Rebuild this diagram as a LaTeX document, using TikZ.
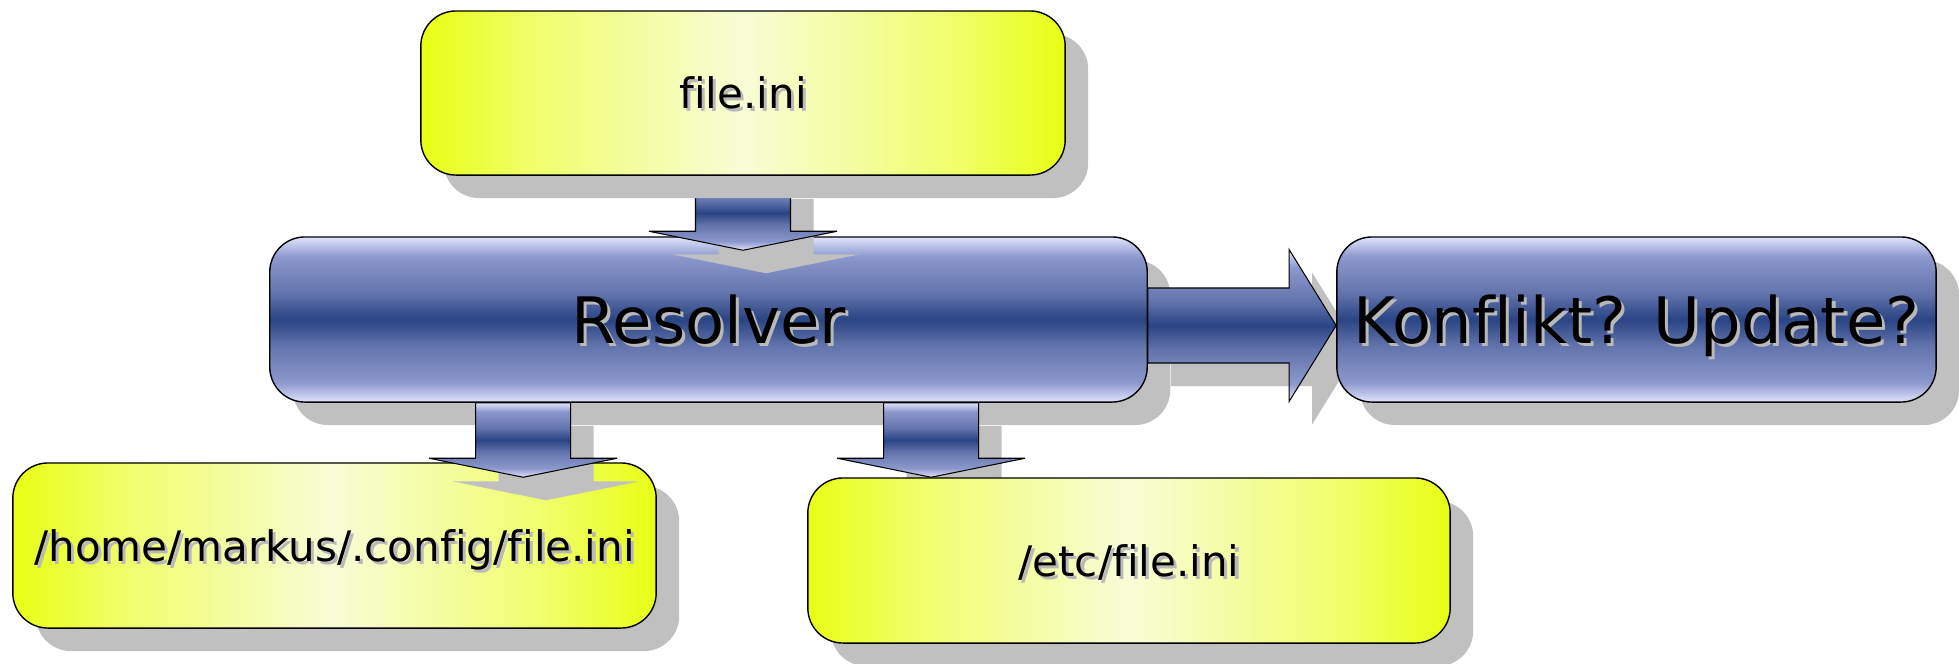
\documentclass[tikz,border=0pt]{standalone}
\usepackage{fontspec}
\setmainfont[Ligatures={NoCommon}]{DejaVu Sans}
\usetikzlibrary{calc,shadows}
\pgfdeclarelayer{bg}
\pgfdeclarelayer{mid}
\pgfsetlayers{bg,mid,main}
\definecolor{yedge}{RGB}{232,255,20}
\definecolor{yq}{RGB}{240,254,110}
\definecolor{ymid}{RGB}{248,252,215}
\definecolor{blight}{RGB}{226,228,252}
\definecolor{bmid}{RGB}{140,152,205}
\definecolor{bmid2}{RGB}{98,116,172}
\definecolor{bdark}{RGB}{42,68,132}
\definecolor{shgray}{RGB}{192,192,192}
\definecolor{tshadow}{RGB}{185,185,185}
\pgfdeclarehorizontalshading{yelsh}{100bp}{color(0bp)=(yedge); color(25bp)=(yedge); color(34bp)=(yq); color(50bp)=(ymid); color(66bp)=(yq); color(75bp)=(yedge); color(100bp)=(yedge)}
\pgfdeclareverticalshading{bluesh}{100bp}{color(0bp)=(blight); color(25bp)=(blight); color(31bp)=(bmid); color(42bp)=(bmid2); color(50bp)=(bdark); color(58bp)=(bmid2); color(69bp)=(bmid); color(75bp)=(blight); color(100bp)=(blight)}
\newcommand{\tsh}[1]{\leavevmode\rlap{\kern0.9pt\raisebox{-0.9pt}{\color{tshadow}#1}}#1}
\tikzset{
  box/.style={draw=black, line width=0.4pt, rounded corners=10pt, inner sep=0pt,
    text depth=0pt,
    drop shadow={shadow xshift=0.23cm, shadow yshift=-0.23cm, fill=shgray, draw=none, opacity=1}},
  yelbox/.style={box, shading=yelsh, font=\fontsize{11.95pt}{14pt}\selectfont, text height=8.9pt},
  bluebox/.style={box, shading=bluesh, font=\fontsize{18.2pt}{22pt}\selectfont, text height=13.4pt},
  blockdown/.style={to path={($(\tikztostart)+(-47.5,0)$) -- ($(\tikztostart)+(47.5,0)$) -- ($(\tikztotarget)+(47.5,-19)$) -- ($(\tikztotarget)+(94,-19)$) -- (\tikztotarget) -- ($(\tikztotarget)+(-94,-19)$) -- ($(\tikztotarget)+(-47.5,-19)$) -- cycle}},
  blockright/.style={to path={($(\tikztostart)+(0,-37.5)$) -- ($(\tikztotarget)+(-47,-37.5)$) -- ($(\tikztotarget)+(-47,-76)$) -- (\tikztotarget) -- ($(\tikztotarget)+(-47,76)$) -- ($(\tikztotarget)+(-47,37.5)$) -- ($(\tikztostart)+(0,37.5)$) -- cycle}},
  blkarrow/.style={draw=black, line width=0.3pt, shading=bluesh},
  blkshadow/.style={fill=shgray, draw=none, transform canvas={shift={(23,23)}}}
}
\begin{document}
\begin{tikzpicture}[x=0.01cm, y=-0.01cm]
\useasboundingbox (0,0) rectangle (1959,663);
\begin{pgfonlayer}{mid}
\node[bluebox, minimum width=8.77cm, minimum height=1.65cm] (resolver) at (708.5,319.5) {\tsh{Resolver}};
\node[bluebox, minimum width=5.99cm, minimum height=1.65cm] (konflikt) at (1636.5,319.5) {\tsh{Konflikt? Update?}};
\end{pgfonlayer}
\node[yelbox, minimum width=6.44cm, minimum height=1.64cm] (top) at (743,93) {\tsh{file.ini}};
\node[yelbox, minimum width=6.43cm, minimum height=1.65cm] (home) at (334.5,545.5) {\tsh{/home/markus/.config/file.ini}};
\node[yelbox, minimum width=6.42cm, minimum height=1.65cm] (etc) at (1129,560.5) {\tsh{/etc/file.ini}};
\coordinate (a1s) at (top.south);
\coordinate (a1e) at ($(top.south |- resolver.north)+(0,14)$);
\coordinate (a2s) at ($(resolver.south west)+(254,0)$);
\coordinate (a2e) at ($(home.north west)+(511,15)$);
\coordinate (a3s) at ($(resolver.south west)+(662,0)$);
\coordinate (a3e) at ($(etc.north west)+(124,0)$);
\coordinate (a4s) at ($(resolver.east)+(0,6)$);
\coordinate (a4e) at ($(konflikt.west)+(0,6)$);
\begin{pgfonlayer}{bg}
\path[blkshadow] (a4s) to[blockright] (a4e);
\path[blkshadow] (a3s) to[blockdown] (a3e);
\end{pgfonlayer}
\begin{pgfonlayer}{mid}
\path[blkshadow] (a1s) to[blockdown] (a1e);
\path[blkarrow] (a1s) to[blockdown] (a1e);
\path[blkarrow] (a4s) to[blockright] (a4e);
\end{pgfonlayer}
\path[blkshadow] (a2s) to[blockdown] (a2e);
\path[blkarrow] (a2s) to[blockdown] (a2e);
\path[blkarrow] (a3s) to[blockdown] (a3e);
\end{tikzpicture}
\end{document}
